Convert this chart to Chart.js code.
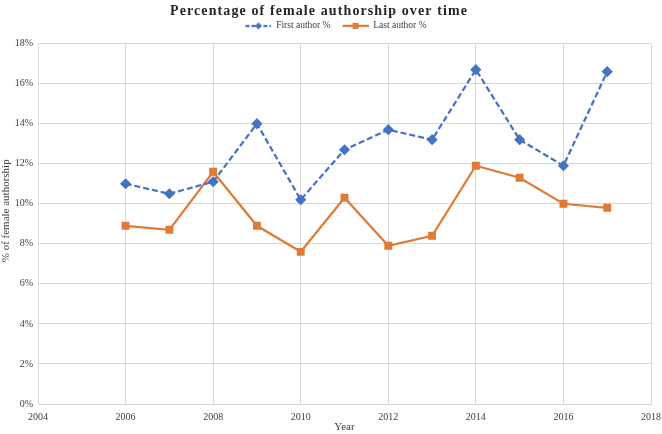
<!DOCTYPE html>
<html>
<head>
<meta charset="utf-8">
<script src="https://cdn.jsdelivr.net/npm/chart.js@4"></script>
<style>
  html, body { margin: 0; padding: 0; background: #fff; }
  #wrap { width: 662px; height: 434px; }
</style>
</head>
<body>
<div id="wrap"><canvas id="femaleAuthors" width="662" height="434"></canvas></div>
<script>
// data
const years = [2006, 2007, 2008, 2009, 2010, 2011, 2012, 2013, 2014, 2015, 2016, 2017];
const firstAuthor = [11.0, 10.5, 11.1, 14.0, 10.2, 12.7, 13.7, 13.2, 16.7, 13.2, 11.9, 16.6];
const lastAuthor = [8.9, 8.7, 11.6, 8.9, 7.6, 10.3, 7.9, 8.4, 11.9, 11.3, 10.0, 9.8];
const yTicks = [0, 2, 4, 6, 8, 10, 12, 14, 16, 18];
const xTicks = [2004, 2006, 2008, 2010, 2012, 2014, 2016, 2018];

const BLUE = "#4472C4";
const ORANGE = "#E07B36";
const GRID = "#d9d9d9";
const TEXT = "#404040";
const SERIF = "'Liberation Serif', 'Times New Roman', serif";

// legend swatch: line with the marker in the middle, like Excel
// (left 10px left empty so the items sit further apart)
function swatch(color, dashed, marker) {
  const c = document.createElement("canvas");
  c.width = 36; c.height = 10;
  const g = c.getContext("2d");
  g.strokeStyle = color;
  g.lineWidth = 2.25;
  if (dashed) g.setLineDash([4, 2]);
  g.beginPath(); g.moveTo(10, 5); g.lineTo(36, 5); g.stroke();
  g.fillStyle = color;
  g.beginPath();
  if (marker === "diamond") {
    g.moveTo(23, 1.5); g.lineTo(26.5, 5); g.lineTo(23, 8.5); g.lineTo(19.5, 5);
  } else {
    g.rect(20, 2, 6, 6);
  }
  g.fill();
  return c;
}

const toPoints = (vals) => vals.map((v, i) => ({ x: years[i], y: v }));

// small layout tweaks: room under the legend, spaced-out title,
// y axis title a little higher (as in the Excel original)
const tweaks = {
  id: "tweaks",
  beforeLayout(chart) {
    const lg = chart.legend;
    if (lg && !lg._patched) {
      const fit = lg.fit;
      lg.fit = function () { fit.call(this); this.height += 3; };
      lg._patched = true;
    }
    const tb = chart.titleBlock;
    if (tb && !tb._patched) {
      const draw = tb.draw;
      tb.draw = function () {
        const ctx = this.ctx;
        ctx.save();
        ctx.letterSpacing = "1.1px";
        ctx.translate(-12, 0);
        draw.call(this);
        ctx.restore();
      };
      tb._patched = true;
    }
  },
  beforeDraw(chart) {
    const y = chart.scales.y;
    if (y && !y._patched) {
      const drawTitle = y.drawTitle;
      y.drawTitle = function () {
        this.ctx.save();
        this.ctx.translate(0, -13);
        drawTitle.call(this);
        this.ctx.restore();
      };
      y._patched = true;
    }
  }
};

new Chart(document.getElementById("femaleAuthors"), {
  type: "line",
  data: {
    datasets: [
      {
        label: "First author %",
        data: toPoints(firstAuthor),
        borderColor: BLUE,
        backgroundColor: BLUE,
        borderWidth: 2.25,
        borderDash: [6, 3],
        pointStyle: "rectRot",
        pointRadius: 4,
        pointHoverRadius: 4,
        fill: false,
        tension: 0
      },
      {
        label: "Last author %",
        data: toPoints(lastAuthor),
        borderColor: ORANGE,
        backgroundColor: ORANGE,
        borderWidth: 2.25,
        pointStyle: "rect",
        pointRadius: 4,
        pointHoverRadius: 4,
        fill: false,
        tension: 0
      }
    ]
  },
  plugins: [tweaks],
  options: {
    responsive: false,
    animation: false,
    layout: { padding: { left: 0, right: 0, top: 0, bottom: 0 } },
    plugins: {
      title: {
        display: true,
        text: "Percentage of female authorship over time",
        color: "#262626",
        font: { family: SERIF, size: 14, weight: "bold", lineHeight: 1.15 },
        padding: { top: 3, bottom: 0 }
      },
      legend: {
        position: "top",
        labels: {
          usePointStyle: true,
          pointStyleWidth: 36,
          boxHeight: 10,
          padding: 2,
          color: TEXT,
          font: { family: SERIF, size: 9.5 },
          generateLabels: () => [
            { text: "First author %", pointStyle: swatch(BLUE, true, "diamond"), datasetIndex: 0, fontColor: TEXT, lineWidth: 0, strokeStyle: "transparent", fillStyle: BLUE },
            { text: "Last author %", pointStyle: swatch(ORANGE, false, "square"), datasetIndex: 1, fontColor: TEXT, lineWidth: 0, strokeStyle: "transparent", fillStyle: ORANGE }
          ]
        }
      },
      tooltip: { enabled: false }
    },
    scales: {
      x: {
        type: "linear",
        min: xTicks[0],
        max: xTicks[xTicks.length - 1],
        afterBuildTicks: (s) => { s.ticks = xTicks.map(v => ({ value: v })); },
        afterFit: (s) => { s.height = 30; s.paddingLeft = 0; s.paddingRight = 11; },
        grid: { color: GRID, drawTicks: false },
        border: { color: GRID },
        ticks: {
          color: TEXT,
          padding: 7,
          maxRotation: 0,
          font: { family: SERIF, size: 10 },
          callback: (v) => String(v)
        },
        title: {
          display: true,
          text: "Year",
          color: TEXT,
          padding: { top: 0, bottom: 0 },
          font: { family: SERIF, size: 11 }
        }
      },
      y: {
        min: yTicks[0],
        max: yTicks[yTicks.length - 1],
        afterBuildTicks: (s) => { s.ticks = yTicks.map(v => ({ value: v })); },
        afterFit: (s) => { s.width = 38; },
        grid: { color: GRID, drawTicks: false },
        border: { color: GRID },
        ticks: {
          color: TEXT,
          padding: 5,
          font: { family: SERIF, size: 10 },
          callback: (v) => v + "%"
        },
        title: {
          display: true,
          text: "% of female authorship",
          color: TEXT,
          padding: { top: 0, bottom: 0 },
          font: { family: SERIF, size: 11 }
        }
      }
    }
  }
});
</script>
</body>
</html>
